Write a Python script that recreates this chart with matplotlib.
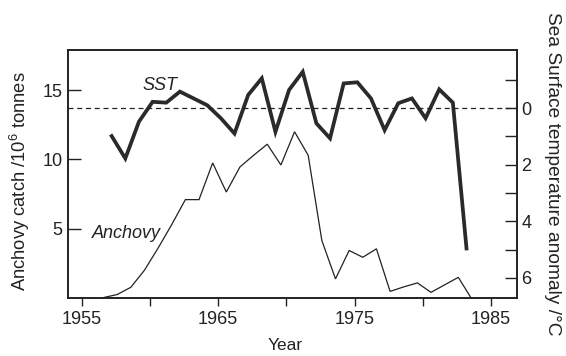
import numpy as np
import matplotlib
matplotlib.use("Agg")
import matplotlib.pyplot as plt

plt.rcParams['font.family'] = ['Liberation Sans', 'DejaVu Sans']
plt.rcParams['mathtext.fontset'] = 'custom'
plt.rcParams['mathtext.rm'] = 'Liberation Sans'
plt.rcParams['mathtext.it'] = 'Liberation Sans:italic'

# ---- data ----
anchovy_years = [1956, 1957, 1958, 1959, 1960, 1961, 1962, 1963, 1964, 1965,
                 1966, 1967, 1968, 1969, 1970, 1971, 1972, 1973, 1974, 1975,
                 1976, 1977, 1978, 1979, 1980, 1981, 1982, 1983]
anchovy_catch = [0.03, 0.25, 0.77, 2.0, 3.6, 5.3, 7.1, 7.1, 9.75, 7.65,
                 9.46, 10.3, 11.1, 9.6, 12.0, 10.3, 4.15, 1.38, 3.43, 2.94,
                 3.55, 0.48, 0.8, 1.09, 0.41, 0.95, 1.49, -0.1]
anchovy_offset = 0.6   # plotted near mid-year

sst_years = [1957, 1958, 1959, 1960, 1961, 1962, 1963, 1964, 1965, 1966,
             1967, 1968, 1969, 1970, 1971, 1972, 1973, 1974, 1975, 1976,
             1977, 1978, 1979, 1980, 1981, 1982, 1983]
sst_anomaly = [0.99, 1.78, 0.48, -0.22, -0.19, -0.58, -0.34, -0.1, 0.36, 0.9,
               -0.46, -1.05, 0.84, -0.64, -1.28, 0.54, 1.07, -0.87, -0.91, -0.34,
               0.78, -0.17, -0.34, 0.36, -0.66, -0.19, 4.96]
sst_offset = 0.2

x_ticks = [1955, 1960, 1965, 1970, 1975, 1980, 1985]
x_ticklabels = ['1955', '', '1965', '', '1975', '', '1985']
left_ticks = [5, 10, 15]
right_ticks = [-1, 0, 1, 2, 3, 4, 5, 6]
right_ticklabels = ['', '0', '', '2', '', '4', '', '6']

FS = 13
INK = '#222222'

fig = plt.figure(figsize=(5.66, 3.56), dpi=100)
ax = fig.add_axes([68/566, 1-298/356, 449/566, 248/356])
ax2 = ax.twinx()

ax.plot(np.array(anchovy_years) + anchovy_offset, anchovy_catch,
        color=INK, lw=0.9, solid_joinstyle='miter', clip_on=True)
ax2.plot(np.array(sst_years) + sst_offset, sst_anomaly,
         color='#2a2a2a', lw=2.7, solid_joinstyle='miter')
ax2.axhline(0, color=INK, lw=0.9, ls=(0, (4, 3)))

ax.set_xlim(1954.0, 1986.9)
ax.set_ylim(0, 17.9)
ax2.set_ylim(6.71, -2.05)

ax.set_xticks(x_ticks)
ax.set_xticklabels(x_ticklabels)
ax.set_yticks(left_ticks)
ax2.set_yticks(right_ticks)
ax2.set_yticklabels(right_ticklabels)

ax.tick_params(axis='x', direction='out', length=6, width=1.0, colors=INK,
               labelsize=FS, pad=3)
ax.tick_params(axis='y', direction='in', length=9, width=1.0, colors=INK,
               labelsize=FS, pad=4)
ax2.tick_params(axis='y', direction='in', length=9, width=1.0, colors=INK,
                labelsize=FS, pad=3)

for a in (ax, ax2):
    for s in a.spines.values():
        s.set_linewidth(1.2)
        s.set_color(INK)

ax.set_xlabel('Year', fontsize=12.5, color=INK)
ax.xaxis.set_label_coords(0.483, -0.163)
ax.set_ylabel(r'Anchovy catch /10$^6$ tonnes', fontsize=13.2, color=INK)
ax.yaxis.set_label_coords(-0.08, 0.472)
ax2.set_ylabel('Sea Surface temperature anomaly /°C', fontsize=13.8,
               color=INK, rotation=270, va='center')
ax2.yaxis.set_label_coords(1.08, 0.5)

ax2.text(1960.73, -0.8, 'SST', style='italic', fontsize=FS, color=INK,
         ha='center', va='center')
ax.text(1955.73, 4.66, 'Anchovy', style='italic', fontsize=FS, color=INK,
        ha='left', va='center')

fig.savefig('out.png', dpi=100)
